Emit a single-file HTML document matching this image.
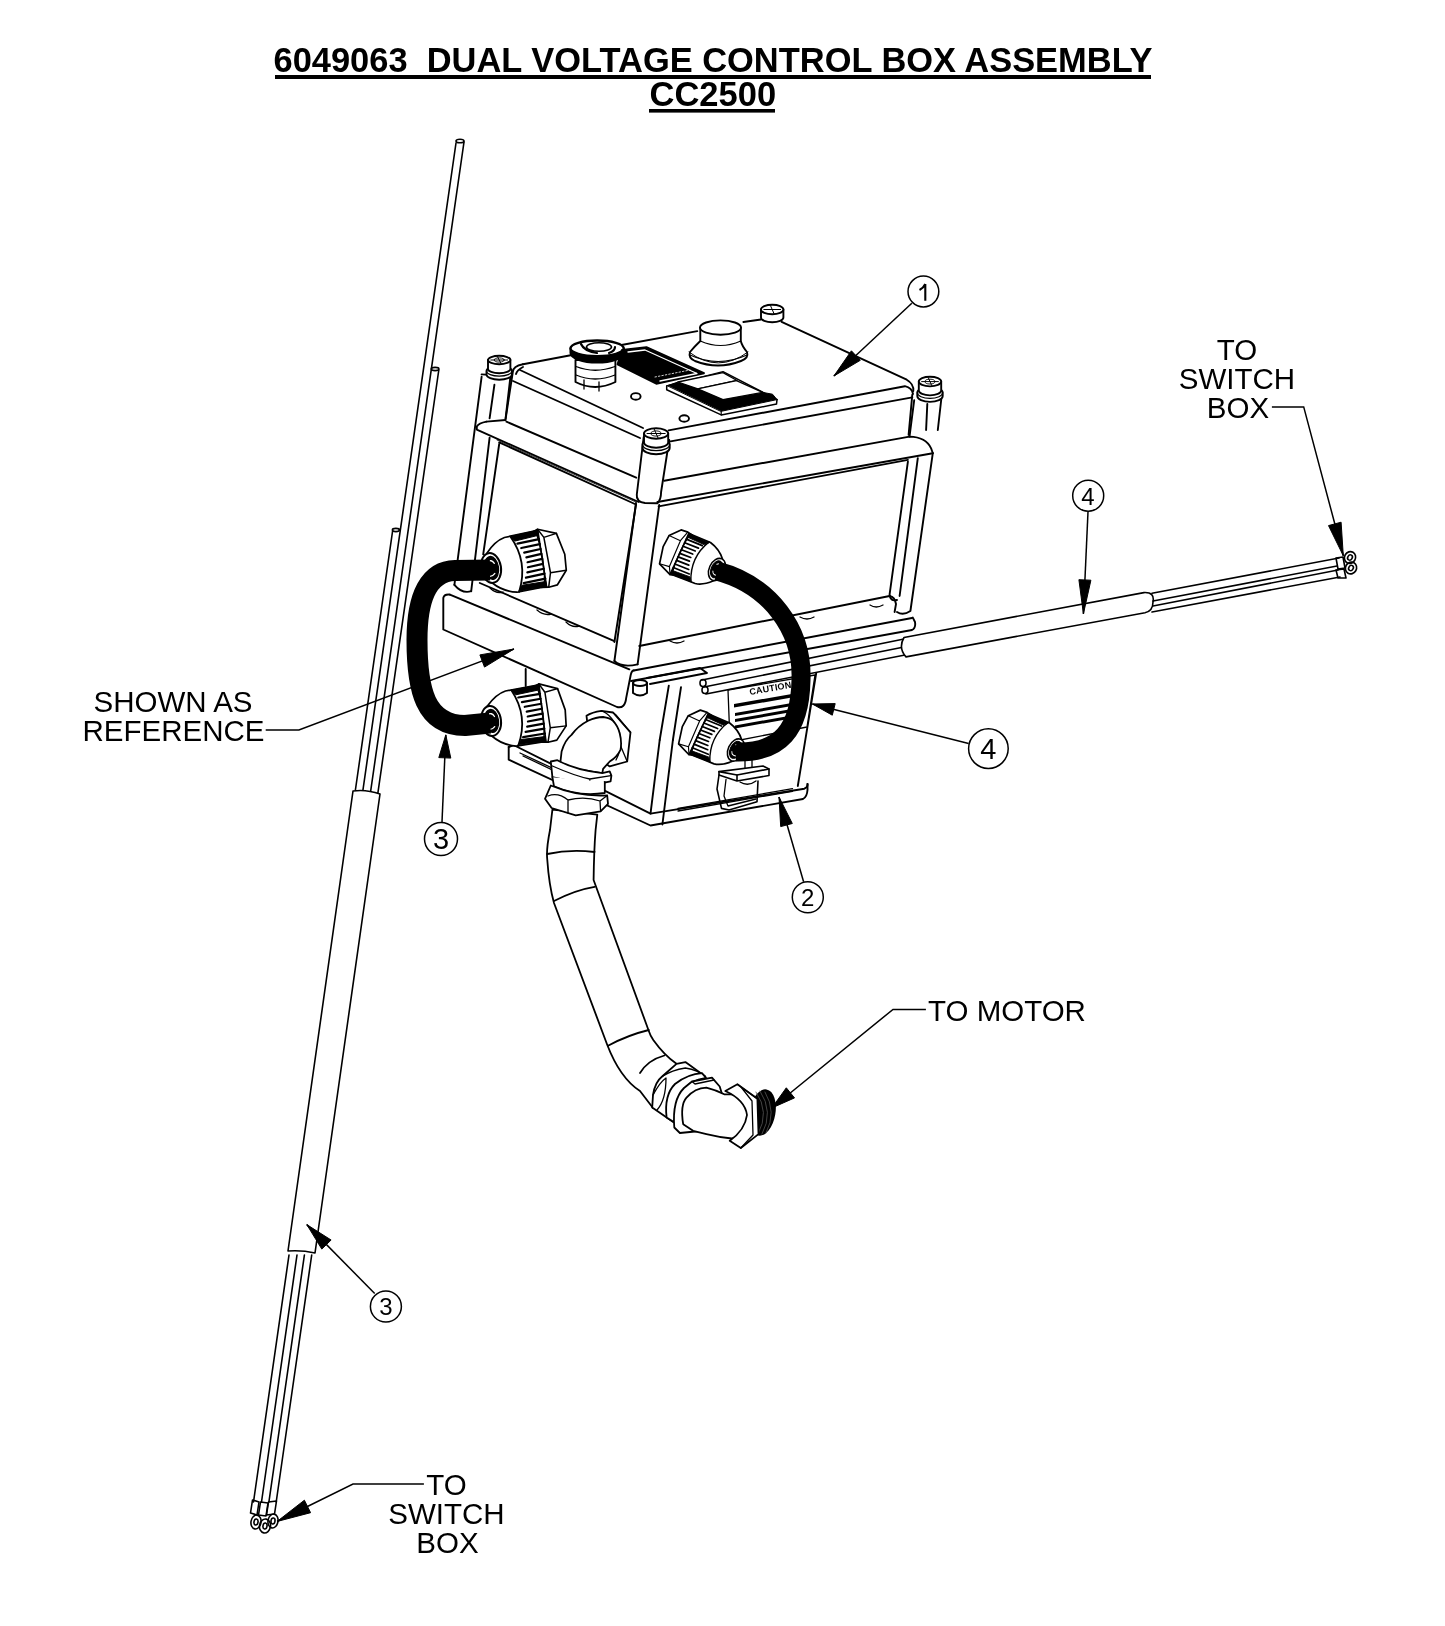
<!DOCTYPE html>
<html><head><meta charset="utf-8"><style>
html,body{margin:0;padding:0;background:#fff;}
svg{display:block;will-change:transform;}
text{font-family:"Liberation Sans",sans-serif;fill:#000;}
</style></head><body>
<svg width="1445" height="1626" viewBox="0 0 1445 1626">
<rect x="0" y="0" width="1445" height="1626" fill="#fff"/>
<!-- TITLE -->
<text x="273.5" y="71.5" font-size="34.45" font-weight="bold" style="white-space:pre">6049063  DUAL VOLTAGE CONTROL BOX ASSEMBLY</text>
<rect x="275" y="75" width="876" height="4" fill="#000"/>
<text x="649.5" y="105.5" font-size="34.5" font-weight="bold">CC2500</text>
<rect x="649" y="109" width="126" height="3.6" fill="#000"/>

<!-- LABEL TEXTS -->
<g font-size="29.5" text-anchor="middle">
<text x="1237" y="360">TO</text><text x="1237" y="389">SWITCH</text><text x="1238" y="418">BOX</text>
<text x="173" y="711.7">SHOWN AS</text><text x="173.5" y="741">REFERENCE</text>
<text x="446.5" y="1495">TO</text><text x="446.5" y="1524">SWITCH</text><text x="447.5" y="1553">BOX</text>
</g>
<text x="928" y="1021" font-size="29.5">TO MOTOR</text>

<g id="drawing" fill="none" stroke="#000" stroke-width="1.6" stroke-linejoin="round" stroke-linecap="round">
<!-- LEFT CABLE (3) -->
<g id="leftcable">
<path d="M456 143 L362.8 791"/>
<path d="M464.0 142 L370.4 793"/>
<path d="M438.8 370 L377.6 795"/>
<path d="M392.6 531 L355.4 790"/>
<ellipse cx="460" cy="141" rx="4" ry="1.8"/>
<ellipse cx="435.1" cy="369" rx="3.8" ry="1.6"/>
<ellipse cx="395.9" cy="530" rx="3.5" ry="1.6"/>
<path d="M353 791 Q366 789 380 794 L315 1253 Q302 1250 288 1251 Z" fill="#fff"/>
<path d="M289 1255 L253.5 1502"/>
<path d="M297 1255 L261.5 1502"/>
<path d="M304.4 1255 L268.9 1502"/>
<path d="M311.7 1255 L276.2 1502"/>
<path d="M252.5 1500 L259 1502 L257 1515 L250.5 1513 Z"/>
<path d="M260.5 1502 L268 1503 L266 1516 L258.5 1515 Z"/>
<path d="M268.5 1502 L276.5 1501 L274.5 1514 L266.5 1515 Z"/>
<ellipse cx="256" cy="1522" rx="5" ry="7" transform="rotate(10 256 1522)"/>
<ellipse cx="256" cy="1522" rx="2" ry="3" transform="rotate(10 256 1522)"/>
<ellipse cx="265" cy="1526" rx="5.5" ry="7" transform="rotate(10 265 1526)"/>
<ellipse cx="265" cy="1526" rx="2" ry="3" transform="rotate(10 265 1526)"/>
<ellipse cx="273" cy="1521" rx="5" ry="7" transform="rotate(10 273 1521)"/>
<ellipse cx="273" cy="1521" rx="2" ry="3" transform="rotate(10 273 1521)"/>
</g>
<!-- BOX -->
<g id="box" stroke-width="1.9">
<!-- lid top face outline -->
<path d="M523 364.2 L570.7 355.3 M618.7 345.5 L697.3 331.1 M743.4 322 L761 319.5"/>
<path d="M781.6 321.8 L906.7 379.7 Q914 384 913.3 391"/>
<path d="M523 364.2 Q513 366 512.8 372 L505.6 419"/>
<path d="M523 367 Q517 370 516 374"/>
<path d="M520 370 L643 428"/>
<path d="M513 381 L640 438"/>
<path d="M668.6 430.4 L904.9 386.2 Q912 388 913 394"/>
<path d="M669.2 441.6 L912.3 397.4"/>
<path d="M912.3 394.6 L908.6 434.8"/>
<path d="M506.4 421.7 L636.2 477.7"/>
<path d="M664.2 480.8 L909.5 436.6 Q926 437 931.1 448.3 L932.8 453.2"/>
<path d="M486.4 421.6 Q479 423 476.8 426.4 L476.8 429.6 L638.7 502"/>
<path d="M486.4 421.6 L505.6 420"/>
<path d="M499.2 442.4 L636 504.5"/>
<path d="M497 440 L636 502" stroke-width="0.8"/>
<path d="M657.4 502 L932.8 453.2"/>
<path d="M658.6 506.4 L907.9 459.9"/>
<!-- left post -->
<path d="M481.6 376.8 L454.4 584.8"/>
<path d="M481.6 374.4 L510.4 376"/>
<path d="M494.4 384.8 L489.6 418.4"/>
<path d="M510.4 376.8 L505.6 418.4"/>
<path d="M489.6 437.6 L471.2 591.2"/>
<path d="M454.4 584.8 Q462 594 471.2 591.2"/>
<!-- front post -->
<path d="M643.7 437 L636.8 494.5 Q636 502 645 503 L657.4 503.2 Q661 500 661.1 492 L669.2 440"/>
<path d="M636 503 L614.4 661"/>
<path d="M659.2 505 L637.6 664.4"/>
<path d="M614.4 661 Q622 668 637.6 664.4"/>
<!-- right post -->
<path d="M914.2 400.2 L909.5 436.6"/>
<path d="M937.8 430 L941.3 399"/>
<path d="M926.1 430 L927.3 404"/>
<path d="M907.9 461.6 L889.6 594.4 Q890 602 897 600"/>
<path d="M917.8 458.2 L899.6 596"/>
<path d="M932.8 453.2 L910.4 611 Q903 616 897 612"/>
<path d="M486.5 371 L486.5 374.5 A12.7 5.2 0 0 0 511.9 374.5 L511.9 371 A12.7 5.2 0 0 0 486.5 371 Z" fill="#fff"/>
<path d="M486.5 371 A12.7 5.2 0 0 0 511.9 371" stroke-width="1.2"/>
<path d="M492.47999999999996 369 L492.47999999999996 372 M505.92 369 L505.92 372 M496.96 370 L496.96 372 M502.0 370 L502.0 372" stroke-width="1.2"/>
<path d="M488.0 360 L488.0 369 A11.2 4.2 0 0 0 510.4 369 L510.4 360 Z" fill="#fff"/>
<ellipse cx="499.2" cy="360" rx="11.2" ry="4.2" fill="#fff"/>
<path d="M490.8 360 L507.59999999999997 360 M497.52 356.64 L500.88 363.36" stroke-width="1"/>
<ellipse cx="499.2" cy="360" rx="5.0" ry="2.1" stroke-width="0.9"/>
<path d="M642.5 444.5 L642.5 448.0 A13.6 6.2 0 0 0 669.7 448.0 L669.7 444.5 A13.6 6.2 0 0 0 642.5 444.5 Z" fill="#fff"/>
<path d="M642.5 444.5 A13.6 6.2 0 0 0 669.7 444.5" stroke-width="1.2"/>
<path d="M648.84 442.5 L648.84 445.5 M663.36 442.5 L663.36 445.5 M653.6800000000001 443.5 L653.6800000000001 445.5 M659.125 443.5 L659.125 445.5" stroke-width="1.2"/>
<path d="M644.0 433.5 L644.0 442.5 A12.1 5.2 0 0 0 668.2 442.5 L668.2 433.5 Z" fill="#fff"/>
<ellipse cx="656.1" cy="433.5" rx="12.1" ry="5.2" fill="#fff"/>
<path d="M647.025 433.5 L665.1750000000001 433.5 M654.285 429.34 L657.9150000000001 437.66" stroke-width="1"/>
<ellipse cx="656.1" cy="433.5" rx="5.4" ry="2.6" stroke-width="0.9"/>
<path d="M917.3 392.6 L917.3 396.1 A12.7 5.8 0 0 0 942.7 396.1 L942.7 392.6 A12.7 5.8 0 0 0 917.3 392.6 Z" fill="#fff"/>
<path d="M917.3 392.6 A12.7 5.8 0 0 0 942.7 392.6" stroke-width="1.2"/>
<path d="M923.28 390.6 L923.28 393.6 M936.72 390.6 L936.72 393.6 M927.76 391.6 L927.76 393.6 M932.8 391.6 L932.8 393.6" stroke-width="1.2"/>
<path d="M918.8 381.6 L918.8 390.6 A11.2 4.8 0 0 0 941.2 390.6 L941.2 381.6 Z" fill="#fff"/>
<ellipse cx="930" cy="381.6" rx="11.2" ry="4.8" fill="#fff"/>
<path d="M921.6 381.6 L938.4 381.6 M928.32 377.76000000000005 L931.68 385.44" stroke-width="1"/>
<ellipse cx="930" cy="381.6" rx="5.0" ry="2.4" stroke-width="0.9"/>
<path d="M761.0 309.5 L761.0 317.5 A11.2 4.8 0 0 0 783.4000000000001 317.5 L783.4000000000001 309.5 Z" fill="#fff"/>
<ellipse cx="772.2" cy="309.5" rx="11.2" ry="4.8" fill="#fff"/>
<path d="M763.8000000000001 309.5 L780.6 309.5 M770.5200000000001 305.66 L773.88 313.34" stroke-width="1"/>
<!-- e-stop -->
<path d="M575.5 360 L575.5 382 Q595 392 615.4 382 L615.4 360 Z" fill="#fff"/>
<path d="M576 366.5 Q595 374 615 366.5" stroke-width="1.3"/>
<path d="M576 375 Q595 383 615 375" stroke-width="1.3"/>
<path d="M584 380 L584 389 M599 382 L599 391" stroke-width="1.3"/>
<path d="M570.5 348.3 A26.6 7.8 0 0 0 623.7 348.3 L623.7 353 A26.6 9.5 0 0 1 570.5 353 Z" fill="#000" stroke-width="2"/>
<ellipse cx="597.1" cy="348.3" rx="26.6" ry="7.8" fill="#fff" stroke-width="2.4"/>
<ellipse cx="599" cy="347" rx="12.5" ry="4.2" stroke-width="1.6"/>
<path d="M581 344 Q584 351 597 353 M609 353 Q615 351 615 347" stroke-width="2.2"/>
<!-- label plate (black) -->
<path d="M622 350 L646.4 347.2 L704 373.2 L656.3 383.7 L617.6 364.3 Z" fill="#000" stroke-width="2"/>
<path d="M628 352 L645 350 L697 373.5 L660 381" stroke="#fff" stroke-width="1.3" fill="none"/>
<path d="M655 377 L690 370" stroke="#fff" stroke-width="0.8" stroke-dasharray="1.5 2"/>
<!-- rocker switch -->
<path d="M666.7 386.1 L723 371.7 L777 399.6 L721.2 411.7 Z" fill="#fff" stroke-width="1.5"/>
<path d="M666.7 386.1 L666.7 389.7 L721.2 414.9 L776.5 404.1 L777 399.6" fill="#fff" stroke-width="1.5"/>
<path d="M721.2 411.7 L721.2 414.9" stroke-width="1.2"/>
<path d="M667.6 385.6 L678 382 L697.8 388.8 L723 399.6 L762.6 392.4 L772.5 394.2 L777 399.6 L721.2 411.3 Z" fill="#000" stroke-width="1"/>
<path d="M678 382 L723 372.6 L737 380.5 L697.8 388.8 Z" fill="#fff" stroke-width="1.3"/>
<path d="M697.8 388.8 L736.5 380.7 L762.6 392.4 L723 399.6 Z" fill="#fff" stroke-width="1.3"/>
<!-- dots -->
<ellipse cx="635.8" cy="396.4" rx="4.8" ry="3.3"/>
<ellipse cx="684.2" cy="418.5" rx="4.8" ry="3.3"/>
<!-- mushroom -->
<path d="M700.3 327.6 L700.3 341 Q695 346 690 352 Q688 358 695 361 Q718 370 741 361 Q749 358 747 352 Q742 346 740.8 341 L740.8 327.6 Z" fill="#fff"/>
<ellipse cx="720.5" cy="327.6" rx="20.5" ry="7.2" fill="#fff"/>
<path d="M700.3 341 Q720.5 350 740.8 341" stroke-width="1.2"/>
<path d="M690 355 Q718 368 747 355" stroke-width="1.2"/>
<path d="M689 352 Q718 374 748 352" stroke-width="1"/>
</g>

<!-- BODY -->
<g id="body" stroke-width="1.9">
<path d="M499.2 444 L483.2 554.4"/>
<path d="M636 504.5 L614.4 642"/>
<path d="M639.3 646 L889.6 596"/>
<path d="M479.8 583 L614.4 641.1"/>
<!-- lower band left -->
<path d="M449.9 594.6 L629.3 669.3"/>
<path d="M449.9 594.6 Q444 594 443.3 598 L443.3 629.5 L617 707 Q625 709 626.2 697.9 L630.7 675 Q632 670 633.8 670.5"/>
<!-- lower band right / bracket -->
<path d="M633.8 670.5 L912 618"/>
<path d="M631 681 L912 630 Q916 628 915 622 L912.8 617.6"/>
<path d="M889.6 596 Q895 597 896 604 L894.6 612"/>
<path d="M647 678 L700 668 L707 673 L650 684"/>
<!-- nut under bracket -->
<path d="M633 683 L633 693 Q640 698 647 693 L647 683" fill="#fff"/>
<ellipse cx="640" cy="683" rx="7" ry="3" fill="#fff"/>
<!-- junction box -->
<path d="M668.8 685.7 L659.7 740"/>
<path d="M681 687.2 L672.9 740"/>
<path d="M816.2 673.2 L797.8 786"/>
<path d="M525.7 669 L525.7 686"/>
<path d="M513.5 745 L650.5 813.6 L804.4 788.7 Q808 787 807.5 784"/>
<path d="M508.7 747 L508.7 759.7 L650.5 825.5 L803 799 Q807 797 807.5 790 L807.5 784"/>
<path d="M508.7 747 L513.5 745"/>
<path d="M659.7 740 L650.5 813.6 M672.9 740 L662.4 824.5"/>
<path d="M678 808.4 L792.5 788.7 M678 811 L792.5 791.3" stroke-width="1.3"/>
<path d="M520 753 L565 774 M523 756 L565 776" stroke-width="1.3"/>
<!-- caution label -->
<path d="M728 690 L815 675 L807 727 L730 742 Z" fill="#fff" stroke-width="1.3"/>
<text x="0" y="0" font-size="9" font-weight="bold" transform="translate(750 695) rotate(-10)" style="letter-spacing:0.2px" stroke="none" fill="#000">CAUTION</text>
<g stroke="none" fill="#000">
<path d="M734 704 L806 691.5 L806 695 L734 707.5 Z"/>
<path d="M735 713 L806 700.5 L806 703.5 L735 716 Z"/>
<path d="M735 719 L803 707 L803 710 L735 722 Z"/>
<path d="M735 725.5 L800 714 L800 717 L735 728.5 Z"/>
</g>
<!-- bolt bumps -->
<path d="M490 588 Q496 594 503 592 M537 610 Q544 616 551 614 M566 622 Q572 628 579 626" stroke-width="1.3"/>
<path d="M670 641 Q677 645 684 641 M800 617 Q807 621 814 617 M870 605 Q876 609 883 605" stroke-width="1.3"/>
</g>

<!-- CONNECTORS -->
<g id="connectors">
<g transform="translate(491 568) rotate(-9) scale(1.0)" stroke-width="1.70">
<path d="M47 -29 L52 -31 L70 -24 L75 -2 L74 14 L63 27 L54 28 L47 27 Z" fill="#fff"/>
<path d="M52 -31 L57 -22 L58 14 L54 28 M57 -22 L70 -24 M58 14 L74 14" stroke-width="1.5"/>
<path d="M-2 -15 Q8 -26 18 -28 L52 -30 L52 27 L22 28 Q8 25 -1 15 Z" fill="#fff"/>
<path d="M24 -28 L52 -30 L52 -25 L28 -23 Z" fill="#000" stroke-width="1"/>
<path d="M24 27 L52 27 L52 22 L28 22 Z" fill="#000" stroke-width="1"/>
<path d="M24 -28 Q38 0 24 28" stroke-width="1.8"/>
<path d="M29.9 -20 L52 -21 M33.0 -15 L52 -16 M35.2 -10 L52 -11 M36.6 -5 L52 -6 M37.0 0 L52 -1 M36.6 5 L52 4 M35.2 10 L52 9 M33.0 15 L52 14 M29.9 20 L52 19" stroke-width="2.2"/>
<path d="M50 -29 Q55 0 50 27" stroke-width="1.3"/>
<ellipse cx="0" cy="0" rx="10" ry="15" fill="#fff" stroke-width="2"/>
<ellipse cx="0.5" cy="0" rx="7" ry="11.5" stroke-width="1.3" fill="#000"/>
<path d="M-3 -7 Q2 -9 4 -4 M3 6 Q0 9 -3 8" stroke="#fff" stroke-width="1.2"/>
</g>
<g transform="translate(491 721) rotate(-7) scale(1.0)" stroke-width="1.70">
<path d="M47 -29 L52 -31 L70 -24 L75 -2 L74 14 L63 27 L54 28 L47 27 Z" fill="#fff"/>
<path d="M52 -31 L57 -22 L58 14 L54 28 M57 -22 L70 -24 M58 14 L74 14" stroke-width="1.5"/>
<path d="M-2 -15 Q8 -26 18 -28 L52 -30 L52 27 L22 28 Q8 25 -1 15 Z" fill="#fff"/>
<path d="M24 -28 L52 -30 L52 -25 L28 -23 Z" fill="#000" stroke-width="1"/>
<path d="M24 27 L52 27 L52 22 L28 22 Z" fill="#000" stroke-width="1"/>
<path d="M24 -28 Q38 0 24 28" stroke-width="1.8"/>
<path d="M29.9 -20 L52 -21 M33.0 -15 L52 -16 M35.2 -10 L52 -11 M36.6 -5 L52 -6 M37.0 0 L52 -1 M36.6 5 L52 4 M35.2 10 L52 9 M33.0 15 L52 14 M29.9 20 L52 19" stroke-width="2.2"/>
<path d="M50 -29 Q55 0 50 27" stroke-width="1.3"/>
<ellipse cx="0" cy="0" rx="10" ry="15" fill="#fff" stroke-width="2"/>
<ellipse cx="0.5" cy="0" rx="7" ry="11.5" stroke-width="1.3" fill="#000"/>
<path d="M-3 -7 Q2 -9 4 -4 M3 6 Q0 9 -3 8" stroke="#fff" stroke-width="1.2"/>
</g>
<g transform="translate(717 569.5) rotate(204.6) scale(0.78)" stroke-width="2.18">
<path d="M47 -29 L52 -31 L70 -24 L75 -2 L74 14 L63 27 L54 28 L47 27 Z" fill="#fff"/>
<path d="M52 -31 L57 -22 L58 14 L54 28 M57 -22 L70 -24 M58 14 L74 14" stroke-width="1.5"/>
<path d="M-2 -15 Q8 -26 18 -28 L52 -30 L52 27 L22 28 Q8 25 -1 15 Z" fill="#fff"/>
<path d="M24 -28 L52 -30 L52 -25 L28 -23 Z" fill="#000" stroke-width="1"/>
<path d="M24 27 L52 27 L52 22 L28 22 Z" fill="#000" stroke-width="1"/>
<path d="M24 -28 Q38 0 24 28" stroke-width="1.8"/>
<path d="M29.9 -20 L52 -21 M33.0 -15 L52 -16 M35.2 -10 L52 -11 M36.6 -5 L52 -6 M37.0 0 L52 -1 M36.6 5 L52 4 M35.2 10 L52 9 M33.0 15 L52 14 M29.9 20 L52 19" stroke-width="2.2"/>
<path d="M50 -29 Q55 0 50 27" stroke-width="1.3"/>
<ellipse cx="0" cy="0" rx="10" ry="15" fill="#fff" stroke-width="2"/>
<ellipse cx="0.5" cy="0" rx="7" ry="11.5" stroke-width="1.3" fill="#000"/>
<path d="M-3 -7 Q2 -9 4 -4 M3 6 Q0 9 -3 8" stroke="#fff" stroke-width="1.2"/>
</g>
<g transform="translate(736 750) rotate(205) scale(0.78)" stroke-width="2.18">
<path d="M47 -29 L52 -31 L70 -24 L75 -2 L74 14 L63 27 L54 28 L47 27 Z" fill="#fff"/>
<path d="M52 -31 L57 -22 L58 14 L54 28 M57 -22 L70 -24 M58 14 L74 14" stroke-width="1.5"/>
<path d="M-2 -15 Q8 -26 18 -28 L52 -30 L52 27 L22 28 Q8 25 -1 15 Z" fill="#fff"/>
<path d="M24 -28 L52 -30 L52 -25 L28 -23 Z" fill="#000" stroke-width="1"/>
<path d="M24 27 L52 27 L52 22 L28 22 Z" fill="#000" stroke-width="1"/>
<path d="M24 -28 Q38 0 24 28" stroke-width="1.8"/>
<path d="M29.9 -20 L52 -21 M33.0 -15 L52 -16 M35.2 -10 L52 -11 M36.6 -5 L52 -6 M37.0 0 L52 -1 M36.6 5 L52 4 M35.2 10 L52 9 M33.0 15 L52 14 M29.9 20 L52 19" stroke-width="2.2"/>
<path d="M50 -29 Q55 0 50 27" stroke-width="1.3"/>
<ellipse cx="0" cy="0" rx="10" ry="15" fill="#fff" stroke-width="2"/>
<ellipse cx="0.5" cy="0" rx="7" ry="11.5" stroke-width="1.3" fill="#000"/>
<path d="M-3 -7 Q2 -9 4 -4 M3 6 Q0 9 -3 8" stroke="#fff" stroke-width="1.2"/>
</g>
</g>

<!-- LOOPS -->
<path d="M490 570 L455 570.5 C430 571, 417 595, 417 640 C417 690, 425 725, 465 725.5 L490 723" stroke-width="21" stroke-linecap="butt"/>
<path d="M717 571 C770 585, 803 630, 801 680 C800 730, 780 753, 736 752" stroke-width="19" stroke-linecap="butt"/>
<!-- CONDUIT -->
<g id="conduit" stroke-width="1.8">
<!-- flexible conduit body -->
<path d="M552.4 809.6 L550 830 Q546 850 547.3 860 Q549 885 554 903 L607.2 1044.7 Q620 1078 640 1091 L653 1108 L676.5 1063.8 Q664 1055 653.3 1040 Q650 1035 648.8 1031 L593.6 880 Q594 850 595.6 830 L597.3 814.6 Z" fill="#fff"/>
<path d="M547.3 854 Q570 849 594.6 852"/>
<path d="M554 901 Q575 890 594.6 886.8"/>
<path d="M608 1045.7 Q628 1035 648.8 1030"/>
<path d="M640 1073 Q648 1060 664.4 1055.5"/>
<!-- lower hex nut -->
<path d="M652.2 1107.5 L653 1095 Q655 1082 662.1 1076.5 L676.5 1063.8 L685.4 1062.1 L705.3 1076.5 L706 1080 L690 1118 L673.2 1122 Z" fill="#fff"/>
<path d="M662.1 1076.5 Q672 1070 685.4 1068 Q698 1070 705.3 1076.5 M653 1095 Q660 1082 666 1078 Q666 1100 657 1110" stroke-width="1.3"/>
<!-- washer -->
<path d="M666.6 1117.5 Q664 1095 675 1084 Q688 1074 702 1073.2 L706 1078 Q690 1080 682 1092 Q676 1104 677 1124 Z" fill="#fff"/>
<!-- elbow nut -->
<path d="M674.3 1127.5 Q672 1100 684 1088 L692 1081.5 L712 1077.6 L719.7 1086.5 L722 1094 L700 1131 L679.9 1133 Z" fill="#fff"/>
<path d="M692 1081.5 L695 1084 L714 1080" stroke-width="1.3"/>
<!-- elbow body -->
<path d="M683.2 1124.2 Q680 1105 686.5 1097.6 Q695 1088 706.4 1087.6 Q716 1090 724.2 1094.3 L736.3 1094.3 Q745 1097 749.6 1104.2 Q754 1115 751.8 1125.3 Q748 1135 741.9 1137.4 L731.9 1138.5 Q718 1137 706.4 1134.1 L693.1 1130.8 Z" fill="#fff"/>
<!-- threads -->
<ellipse cx="762.5" cy="1112.5" rx="12" ry="22.5" fill="#000" transform="rotate(10 762.5 1112.5)"/>
<path d="M756 1092 Q770 1112 758 1134 M760 1091 Q774 1112 762 1134 M765 1092 Q777 1112 766 1133" stroke="#555" stroke-width="0.8"/>
<!-- end nut -->
<path d="M725.3 1091 L737.4 1084.3 L757.4 1098.7 L758.5 1134.1 L740.8 1148 L729.7 1140.8 Q745 1130 747 1115 Q745 1100 725.3 1091 Z" fill="#fff"/>
<path d="M737.4 1084.3 L741 1087 L757.4 1098.7 M741 1087 L752 1101 L753 1135 L740.8 1148" stroke-width="1.3"/>

<!-- upper nut at box wall -->
<path d="M586.5 715.8 Q592 712 601.4 710.8 L613 712.5 L630.5 732.4 L627.2 761.5 L609.7 766.4 Q600 760 590 745 Z" fill="#fff"/>
<path d="M601.4 710.8 Q612 714 619.7 733.2 Q622 750 616 760 M613 712.5 L616 715 L630.5 732.4 M616 735 L627.2 761.5" stroke-width="1.3"/>
<!-- elbow -->
<path d="M559.9 766.4 L561.6 751.5 Q565 740 571.5 734.9 Q578 726 588.1 720.8 Q596 717 603.1 717 Q610 718 613 720.8 Q618 726 619.7 733.2 Q622 742 620.5 749.8 Q617 757 609.7 761.5 L603.1 768.9 L602.3 773.1 Z" fill="#fff"/>
<!-- ring washer -->
<path d="M550.8 761.5 L557.4 760.2 Q575 770 602.3 773.1 L609.7 771.4 L611.4 775.6 L610.6 781.4 L589.8 785.5 L552.4 777.2 Z" fill="#fff"/>
<path d="M552.4 766 Q575 776 589.8 779 L611 775.6 M589.8 779 L589.8 785.5" stroke-width="1.3"/>
<!-- cylinder -->
<path d="M552.4 777.2 L554 786.4 Q578 797 604.8 793 L604.8 782" fill="#fff"/>
<!-- lower hex nut -->
<path d="M545 798.8 L550.8 785.5 Q578 797 607.2 795.5 L608 803.8 L600.6 811.3 L575.7 815.4 L551.6 808 Z" fill="#fff"/>
<path d="M548 796 Q558 792 568 800 L568 813 M568 800 Q585 796 600 801 L600.6 811.3 M600 801 L607.2 795.5" stroke-width="1.3"/>
</g>
<!-- clip -->
<path d="M745 752 L745 768 M752 751 L752 767" stroke-width="1.3"/>
<path d="M719 771.6 L763 766 L769 769 L737 775 Z" fill="#fff"/>
<path d="M719 771.6 L719 775 L737 781 L769 775.5 L769 769 M737 775 L737 781"/>
<path d="M719 775 L717 789 L721.5 808.4 L729 810 L757 801.8 L758 781"/>
<path d="M726 779.5 L724 796 L728 806 L756 799" stroke-width="1.3"/>
<path d="M740 782 Q748 787 756 781" stroke-width="1.3"/>

<!-- RIGHT CABLE (4) -->
<g id="rightcable">
<path d="M702 680 L904 639"/>
<path d="M704 687 L904 647"/>
<path d="M706 694 L905 655"/>
<ellipse cx="703" cy="683" rx="3" ry="3.5"/>
<ellipse cx="705" cy="690" rx="3" ry="3.5"/>
<path d="M904 637.5 L1143.9 592.6 Q1155 592 1153 602 Q1153 611 1145 612.7 L906 656.9 Q898 648 904 637.5 Z" fill="#fff"/>
<path d="M1152 593.3 L1339 558"/>
<path d="M1153 601 L1337 566"/>
<path d="M1153 606 L1338 570"/>
<path d="M1152 612 L1340 577"/>
<path d="M1336 558 L1343 557 L1345 568 L1338 569 Z"/>
<path d="M1336 570 L1344 569 L1346 578 L1338 578 Z"/>
<ellipse cx="1350" cy="557.5" rx="5.5" ry="6" transform="rotate(30 1350 557.5)"/>
<ellipse cx="1350" cy="557.5" rx="2.2" ry="2.8" transform="rotate(30 1350 557.5)"/>
<ellipse cx="1351" cy="568" rx="5.5" ry="6" transform="rotate(30 1351 568)"/>
<ellipse cx="1351" cy="568" rx="2.2" ry="2.8" transform="rotate(30 1351 568)"/>
</g>

</g>
<g id="labels" fill="none" stroke="#000" stroke-width="1.5">
<circle cx="923.4" cy="291.5" r="15.4"/>
<circle cx="1088.2" cy="495.7" r="15.5"/>
<circle cx="988.4" cy="748.6" r="19.8"/>
<circle cx="441" cy="839" r="16.5"/>
<circle cx="807.8" cy="897.2" r="15.5"/>
<circle cx="385.9" cy="1306.5" r="15.5"/>
<!-- leaders -->
<path d="M911.8 303.3 L833.9 376"/>
<path d="M1088 511.8 L1083.4 613.9"/>
<path d="M968.6 743.6 L812.4 704"/>
<path d="M442 822 L445.8 734.9"/>
<path d="M803.6 881.8 L779 797"/>
<path d="M374.7 1293.5 L306.8 1224.6"/>
<path d="M265.7 730 L298.9 730 L514 649"/>
<path d="M925.9 1009.4 L893 1009.4 L771.8 1108"/>
<path d="M1271.9 406.9 L1303.7 406.9 L1343.3 555.8"/>
<path d="M423.9 1484 L353 1484 L277 1521.5"/>
</g>
<g id="arrows" fill="#000" stroke="#000" stroke-width="1" stroke-linejoin="miter">
<path d="M833.9 376.0 L860.3 360.3 L851.4 350.8 Z"/>
<path d="M1083.4 613.9 L1090.9 580.2 L1078.9 579.7 Z"/>
<path d="M812.4 704.0 L832.3 715.2 L835.2 703.6 Z"/>
<path d="M445.8 734.9 L438.8 757.6 L450.8 758.1 Z"/>
<path d="M779.0 797.0 L780.7 826.6 L792.3 823.5 Z"/>
<path d="M306.8 1224.6 L321.8 1249.1 L331.1 1240.0 Z"/>
<path d="M514.0 649.0 L479.9 654.9 L484.5 667.1 Z"/>
<path d="M771.8 1108.0 L794.5 1097.9 L786.3 1087.8 Z"/>
<path d="M1343.3 555.8 L1341.1 522.2 L1328.5 525.6 Z"/>
<path d="M277.0 1521.5 L310.6 1512.7 L304.4 1500.2 Z"/>
</g>
<g id="digits" font-size="24" text-anchor="middle">

<text x="1088" y="504.5">4</text>
<text x="988.4" y="758.5" font-size="29">4</text>
<text x="441" y="848.6" font-size="29">3</text>
<text x="807.8" y="906">2</text>
<text x="385.9" y="1315">3</text>
</g>
<path d="M925.3 284 L925.3 300.8 M919.5 290 Q923.5 288 925.3 284" fill="none" stroke="#000" stroke-width="2.1"/>
</svg>
</body></html>
